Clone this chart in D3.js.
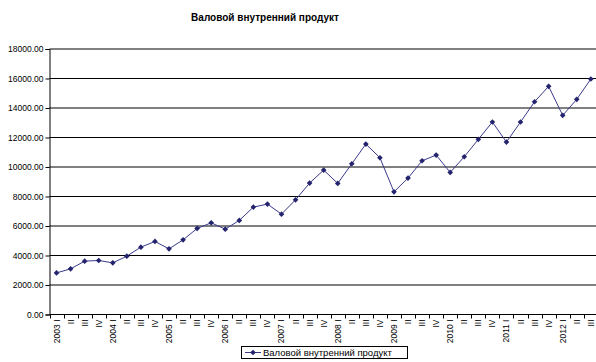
<!DOCTYPE html>
<html>
<head>
<meta charset="utf-8">
<script src="https://cdn.jsdelivr.net/npm/d3@7"></script>
<style>
  html, body { margin: 0; padding: 0; background: #fff; }
  svg { display: block; font-family: Arial, "Liberation Sans", sans-serif; }
</style>
</head>
<body>
<svg id="chart" width="596" height="362"></svg>
<script>
// Quarterly GDP, 2003 Q1 – 2012 Q3
const quarterLabels = [
  "2003 I", "II", "III", "IV",
  "2004 I", "II", "III", "IV",
  "2005 I", "II", "III", "IV",
  "2006 I", "II", "III", "IV",
  "2007 I", "II", "III", "IV",
  "2008 I", "II", "III", "IV",
  "2009 I", "II", "III", "IV",
  "2010 I", "II", "III", "IV",
  "2011 I", "II", "III", "IV",
  "2012 I", "II", "III"
];
const gdpValues = [
  2822, 3094, 3616, 3664,
  3501, 3956, 4566, 4953,
  4451, 5062, 5835, 6215,
  5788, 6378, 7280, 7484,
  6805, 7776, 8909, 9791,
  8888, 10218, 11555, 10625,
  8318, 9248, 10422, 10809,
  9635, 10693, 11874, 13048,
  11691, 13048, 14425, 15470,
  13502, 14588, 15965
];
const yTicks = [0, 2000, 4000, 6000, 8000, 10000, 12000, 14000, 16000, 18000];
const seriesName = "Валовой внутренний продукт";
const chartTitle = "Валовой внутренний продукт";

const svg = d3.select("#chart");
const plotLeft = 49.5, plotBottom = 314.5, plotTop = 49;
const step = 14.06;
const plotRight = plotLeft + step * quarterLabels.length;

const x = d3.scaleBand()
  .domain(d3.range(quarterLabels.length))
  .range([plotLeft, plotRight])
  .padding(0);
const y = d3.scaleLinear().domain([0, 18000]).range([plotBottom, plotTop]);
const lineColor = "#3a3a8c";
const markerColor = "#23236e";

// title
svg.append("text")
  .attr("x", 265).attr("y", 21)
  .attr("text-anchor", "middle")
  .attr("font-size", 10).attr("font-weight", "bold")
  .attr("fill", "#000")
  .text(chartTitle);

// horizontal gridlines
svg.append("g").selectAll("line")
  .data(yTicks.filter(d => d > 0))
  .join("line")
  .attr("x1", plotLeft).attr("x2", 596)
  .attr("y1", d => y(d)).attr("y2", d => y(d))
  .attr("stroke", "#000").attr("stroke-width", 1);

// y axis
const yAxis = d3.axisLeft(y)
  .tickValues(yTicks)
  .tickSize(4)
  .tickPadding(2)
  .tickFormat(d3.format(".2f"));
const gy = svg.append("g").attr("transform", `translate(${plotLeft},0)`).call(yAxis);
gy.select(".domain").attr("stroke", "#000");
gy.selectAll(".tick line").attr("stroke", "#000");
gy.selectAll(".tick text")
  .attr("font-size", 8.5)
  .attr("font-family", "Arial, 'Liberation Sans', sans-serif")
  .attr("fill", "#000");

// x axis line
svg.append("line")
  .attr("x1", plotLeft).attr("x2", 596)
  .attr("y1", plotBottom).attr("y2", plotBottom)
  .attr("stroke", "#000");

// category separator ticks
svg.append("g").selectAll("line")
  .data(d3.range(quarterLabels.length + 1))
  .join("line")
  .attr("x1", i => Math.round(plotLeft + i * x.step()) + 0.5)
  .attr("x2", i => Math.round(plotLeft + i * x.step()) + 0.5)
  .attr("y1", plotBottom).attr("y2", plotBottom + 4)
  .attr("stroke", "#000");

// rotated category labels
svg.append("g").selectAll("text")
  .data(quarterLabels)
  .join("text")
  .attr("transform", (d, i) => `translate(${x(i) + x.bandwidth() / 2 + 3},${plotBottom + 5}) rotate(-90)`)
  .attr("text-anchor", "end")
  .attr("font-size", 8.5)
  .attr("fill", "#000")
  .text(d => d);

// series line
const line = d3.line()
  .x((d, i) => x(i) + x.bandwidth() / 2)
  .y(d => y(d));
svg.append("path")
  .datum(gdpValues)
  .attr("d", line)
  .attr("fill", "none")
  .attr("stroke", lineColor)
  .attr("stroke-width", 1);

// diamond markers (rotated squares)
const marker = d3.symbol().type(d3.symbolSquare).size(16);
svg.append("g").selectAll("path")
  .data(gdpValues)
  .join("path")
  .attr("transform", (d, i) => `translate(${x(i) + x.bandwidth() / 2},${y(d)}) rotate(45)`)
  .attr("d", marker)
  .attr("fill", markerColor);

// legend
const lg = svg.append("g");
lg.append("rect")
  .attr("x", 241.5).attr("y", 346.5)
  .attr("width", 166).attr("height", 12)
  .attr("fill", "#fff").attr("stroke", "#000");
lg.append("line")
  .attr("x1", 245).attr("x2", 261)
  .attr("y1", 352.5).attr("y2", 352.5)
  .attr("stroke", lineColor);
lg.append("path")
  .attr("transform", "translate(253,352.5) rotate(45)")
  .attr("d", marker)
  .attr("fill", markerColor);
lg.append("text")
  .attr("x", 263).attr("y", 356)
  .attr("font-size", 9.5)
  .attr("fill", "#000")
  .text(seriesName);
</script>
</body>
</html>
